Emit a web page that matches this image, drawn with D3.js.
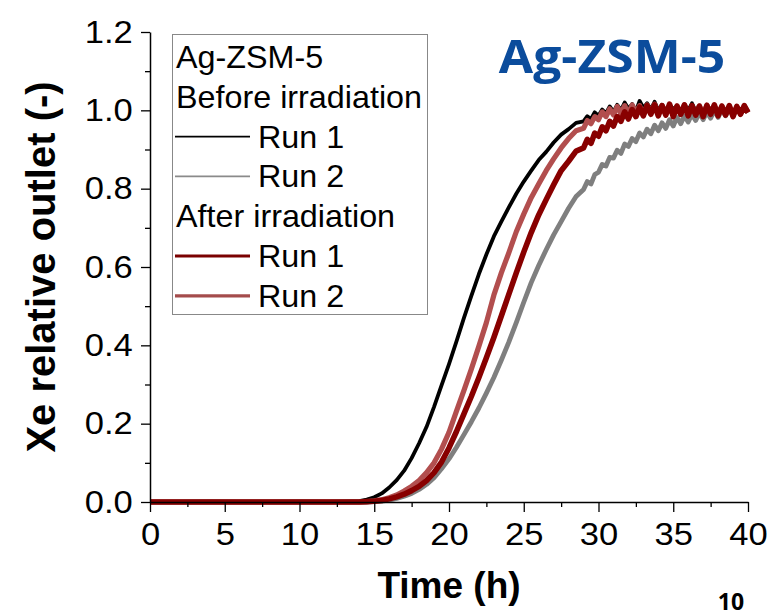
<!DOCTYPE html>
<html>
<head>
<meta charset="utf-8">
<script src="https://cdn.jsdelivr.net/npm/d3@7"></script>
<style>
  html, body { margin: 0; padding: 0; background: #fff; }
  svg { display: block; }
</style>
</head>
<body>
<svg id="chart" width="773" height="616"></svg>
<script>
// ---- data ----
const time = [0,2,4,6,8,10,12,13,
  14,14.5,15,15.5,16,16.5,17,17.5,18,18.5,
  19,19.5,20,20.5,21,21.5,22,22.5,23,23.5,
  24,24.5,25,25.5,26,26.5,27,27.5,28,28.5,
  29,29.25,29.5,29.75, 30,30.25,30.5,30.75, 31,31.25,31.5,31.75,
  32,32.25,32.5,32.75, 33,33.25,33.5,33.75, 34,34.25,34.5,34.75,
  35,35.25,35.5,35.75, 36,36.25,36.5,36.75, 37,37.25,37.5,37.75,
  38,38.25,38.5,38.75, 39,39.25,39.5,39.75, 40];

const beforeRun1 = [0,0,0.001,0,0,0.001,0,0.001,
  0.002,0.006,0.012,0.022,0.037,0.056,0.080,0.112,0.150,0.192,
  0.243,0.298,0.352,0.410,0.470,0.527,0.582,0.632,0.678,0.716,
  0.752,0.787,0.818,0.846,0.873,0.894,0.918,0.938,0.952,0.968,
  0.972,0.985,0.978,0.995, 0.986,1.002,0.992,1.010, 0.996,1.014,1.000,1.020,
  1.004,1.016,0.998,1.024, 1.006,1.018,1.002,1.022, 1.000,1.014,0.996,1.016,
  1.002,1.012,0.994,1.014, 1.000,1.018,0.998,1.010, 0.994,1.014,1.000,1.012,
  0.996,1.010,0.998,1.008, 0.994,1.010,0.998,1.006, 1.000];

const beforeRun2 = [0,0,0,0,0,0,0,0,
  0,0,0.001,0.002,0.005,0.009,0.015,0.022,0.032,0.045,
  0.062,0.085,0.110,0.140,0.172,0.205,0.240,0.278,0.318,0.362,
  0.408,0.458,0.510,0.560,0.604,0.644,0.682,0.716,0.750,0.780,
  0.798,0.818,0.812,0.836, 0.842,0.862,0.858,0.880, 0.878,0.898,0.890,0.914,
  0.908,0.928,0.920,0.942, 0.932,0.952,0.940,0.962, 0.948,0.968,0.954,0.976,
  0.960,0.982,0.966,0.986, 0.970,0.990,0.974,0.994, 0.976,0.996,0.980,1.000,
  0.982,1.002,0.986,1.004, 0.986,1.006,0.990,1.008, 0.994];

const afterRun1 = [0,0,0,0,0,0,0,0,
  0,0.001,0.002,0.004,0.008,0.013,0.020,0.029,0.040,0.055,
  0.075,0.102,0.138,0.180,0.225,0.270,0.318,0.368,0.420,0.475,
  0.530,0.585,0.638,0.688,0.733,0.772,0.810,0.846,0.870,0.896,
  0.904,0.926,0.916,0.942, 0.934,0.958,0.948,0.972, 0.960,0.984,0.972,0.996,
  0.978,1.002,0.984,1.008, 0.986,1.012,0.990,1.014, 0.986,1.012,0.988,1.016,
  0.984,1.010,0.990,1.014, 0.986,1.012,0.988,1.010, 0.984,1.012,0.990,1.014,
  0.986,1.010,0.988,1.012, 0.984,1.010,0.990,1.012, 0.994];

const afterRun2 = [0,0,0,0,0,0,0,0,
  0,0.001,0.003,0.006,0.011,0.018,0.028,0.040,0.055,0.075,
  0.100,0.135,0.178,0.232,0.285,0.340,0.398,0.458,0.528,0.585,
  0.636,0.690,0.735,0.777,0.812,0.846,0.876,0.904,0.928,0.948,
  0.954,0.974,0.966,0.984, 0.976,0.996,0.984,1.004, 0.988,1.010,0.992,1.012,
  0.990,1.014,0.994,1.012, 0.988,1.014,0.992,1.016, 0.990,1.012,0.994,1.010,
  0.988,1.012,0.990,1.014, 0.990,1.010,0.992,1.012, 0.988,1.014,0.990,1.010,
  0.988,1.012,0.992,1.010, 0.990,1.008,0.992,1.010, 0.996];

const xTicks = [0,5,10,15,20,25,30,35,40];
const xMinor = [2.5,7.5,12.5,17.5,22.5,27.5,32.5,37.5];
const yTicks = [0,0.2,0.4,0.6,0.8,1.0,1.2];
const yMinor = [0.1,0.3,0.5,0.7,0.9,1.1];

const legendTitle = "Ag-ZSM-5";
const legendGroups = ["Before irradiation", "After irradiation"];
const runLabels = ["Run 1", "Run 2"];
const chartTitle = "Ag-ZSM-5";
const xTitle = "Time (h)";
const yTitle = "Xe relative outlet (-)";
const pageNumber = "10";

// ---- drawing ----
const svg = d3.select("#chart");
const x = d3.scaleLinear().domain([0, 40]).range([150, 748]);
const y = d3.scaleLinear().domain([0, 1.2]).range([502, 32]);
const SX = 1.08; // horizontal stretch of the original's lettering

const series = [
  { values: beforeRun1, color: "#000000", width: 3.8 },
  { values: beforeRun2, color: "#7f7f7f", width: 4.8 },
  { values: afterRun2, color: "#b24e4e", width: 5.2 },
  { values: afterRun1, color: "#880000", width: 5.6 }
];

const line = d3.line().x((d, i) => x(time[i])).y(d => y(d));
series.forEach(s => {
  svg.append("path")
    .datum(s.values)
    .attr("d", line)
    .attr("fill", "none")
    .attr("stroke", s.color)
    .attr("stroke-width", s.width)
    .attr("stroke-linejoin", "round");
});

const tickFont = "'Liberation Sans', Arial, sans-serif";

// x axis
svg.append("g").attr("transform", `translate(0,${y(0)})`)
  .call(d3.axisBottom(x).tickValues(xTicks).tickFormat(d3.format("d"))
    .tickSize(10).tickSizeOuter(0).tickPadding(10));
svg.append("g").attr("class", "minor").attr("transform", `translate(0,${y(0)})`)
  .call(d3.axisBottom(x).tickValues(xMinor).tickFormat("").tickSize(5).tickSizeOuter(0))
  .select(".domain").remove();

// y axis
svg.append("g").attr("transform", `translate(${x(0)},0)`)
  .call(d3.axisLeft(y).tickValues(yTicks).tickFormat(d3.format(".1f"))
    .tickSize(9).tickSizeOuter(0).tickPadding(7));
svg.append("g").attr("class", "minor").attr("transform", `translate(${x(0)},0)`)
  .call(d3.axisLeft(y).tickValues(yMinor).tickFormat("").tickSize(5).tickSizeOuter(0))
  .select(".domain").remove();

svg.selectAll(".tick line").attr("stroke", "#000").attr("stroke-width", 1.3);
svg.selectAll(".domain").attr("stroke", "#000").attr("stroke-width", 1.5);
svg.selectAll(".tick text")
  .attr("font-family", tickFont)
  .attr("font-size", 32)
  .attr("fill", "#000")
  .attr("transform", `scale(${SX},1)`);

// helper for stretched text
function stext(tx, ty, str, opts) {
  const t = svg.append("text")
    .attr("transform", `translate(${tx},${ty}) scale(${opts.sx || 1},1)`)
    .attr("text-anchor", opts.anchor || "start")
    .attr("font-family", opts.family || tickFont)
    .attr("font-size", opts.size)
    .attr("fill", opts.fill || "#000")
    .text(str);
  if (opts.bold) t.attr("font-weight", "bold");
  return t;
}

// axis titles
stext(x(20), 598, xTitle, { anchor: "middle", size: 37, bold: true });

svg.append("text")
  .attr("transform", `translate(55,${(y(0) + y(1.2)) / 2}) rotate(-90)`)
  .attr("text-anchor", "middle")
  .attr("font-family", tickFont).attr("font-weight", "bold").attr("font-size", 40)
  .text(yTitle);

// chart title
stext(612, 73, chartTitle, { anchor: "middle", size: 47, bold: true, sx: 1.06,
  family: "'Open Sans', 'Noto Sans', sans-serif", fill: "#0b4c9c" });

// page number
stext(731, 610, pageNumber, { anchor: "middle", size: 23, bold: true,
  family: "'Open Sans', 'Noto Sans', sans-serif" });

// legend
svg.append("rect")
  .attr("x", 172.5).attr("y", 34.5).attr("width", 255).attr("height", 280)
  .attr("fill", "none").attr("stroke", "#888").attr("stroke-width", 1);

const legendRows = [
  { text: legendTitle },
  { text: legendGroups[0] },
  { text: runLabels[0], color: "#000000", w: 1.6 },
  { text: runLabels[1], color: "#8a8a8a", w: 1.6 },
  { text: legendGroups[1] },
  { text: runLabels[0], color: "#7a0000", w: 3.2 },
  { text: runLabels[1], color: "#a44c4c", w: 3.2 }
];
const rowStep = 39.8, firstBase = 68;
legendRows.forEach((r, i) => {
  const base = firstBase + i * rowStep;
  if (r.color) {
    svg.append("line")
      .attr("x1", 175).attr("x2", 250)
      .attr("y1", base - 11).attr("y2", base - 11)
      .attr("stroke", r.color).attr("stroke-width", r.w);
    stext(258, base, r.text, { size: 30.5, sx: 1.06 });
  } else {
    stext(176, base, r.text, { size: 30.5, sx: 1.06 });
  }
});
</script>
</body>
</html>
